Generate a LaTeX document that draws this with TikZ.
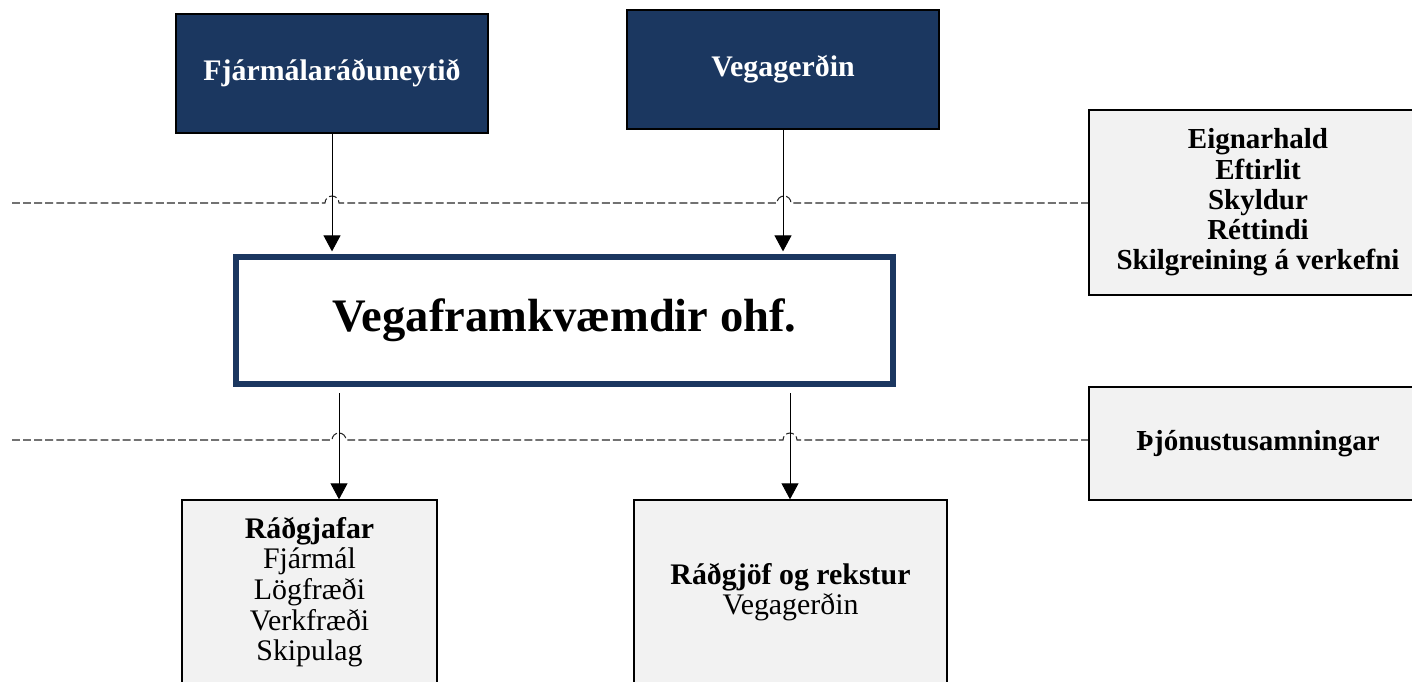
\documentclass[tikz,border=0pt]{standalone}
\usepackage{fontspec}
\setmainfont{Liberation Serif}
\usetikzlibrary{arrows.meta,positioning}
\definecolor{roadnavy}{RGB}{27,55,96}
\definecolor{panelgray}{RGB}{242,242,242}

\begin{document}
\begin{tikzpicture}[x=0.02cm,y=-0.02cm,
    topbox/.style={draw=black, line width=0.8pt, fill=roadnavy, text=white, font=\bfseries\fontsize{17}{20}\selectfont, minimum width=6.24cm, minimum height=2.38cm, inner sep=0pt},
    mainbox/.style={draw=roadnavy, line width=3.4pt, fill=white, font=\bfseries\fontsize{26.5}{32}\selectfont, minimum width=13.14cm, minimum height=2.54cm, inner sep=0pt},
    notebox/.style={draw=black, line width=0.8pt, fill=panelgray, align=center, font=\bfseries\fontsize{16.5}{17.2}\selectfont, minimum width=6.76cm, inner sep=0pt},
    lowbox/.style={draw=black, line width=0.8pt, fill=panelgray, align=center, font=\fontsize{17}{17.4}\selectfont, minimum height=3.68cm, inner sep=0pt},
    flow/.style={draw=black, line width=0.5pt, -{Triangle[length=0.32cm,width=0.34cm]}},
    divider/.style={draw=black!85, line width=0.6pt, dash pattern=on 4.5pt off 1.8pt}]
    \useasboundingbox (0,0) rectangle (1412,681);

    % Draw dividing lines with hops
    \draw[divider] (12,203) -- (325,203) arc[start angle=180, end angle=360, radius=7]
        -- (777,203) arc[start angle=180, end angle=360, radius=7] -- (1089,203);
    \draw[divider] (12,440) -- (332,440) arc[start angle=180, end angle=360, radius=7]
        -- (783,440) arc[start angle=180, end angle=360, radius=7] -- (1089,440);

    % Draw owners
    \node[topbox] (fin) at (332,73.5) {Fjármálaráðuneytið};
    \node[topbox] (veg) at (783,69.5) {Vegagerðin};

    % Draw company
    \node[mainbox] (vf) at (564.5,320.5) {Vegaframkvæmdir ohf.};

    % Draw notes on the right
    \node[notebox, minimum height=3.7cm] (roles) at (1258,202.5) {Eignarhald\\Eftirlit\\Skyldur\\Réttindi\\Skilgreining á verkefni};
    \node[notebox, minimum height=2.26cm] (svc) at (1258,443.5) {Þjónustusamningar};

    % Draw service providers
    \node[lowbox, minimum width=5.1cm] (radg) at (309.5,592) {\textbf{Ráðgjafar}\\Fjármál\\Lögfræði\\Verkfræði\\Skipulag};
    \node[lowbox, minimum width=6.26cm] (rekst) at (790.5,592) {\textbf{Ráðgjöf og rekstur}\\Vegagerðin};

    % Draw arrows
    \coordinate (outL) at (339,393);
    \coordinate (outR) at (790,393);
    \draw[flow] (fin.south) -- ([yshift=1.5pt]fin.south |- vf.north);
    \draw[flow] (veg.south) -- ([yshift=1.5pt]veg.south |- vf.north);
    \draw[flow] (outL) -- (outL |- radg.north);
    \draw[flow] (outR) -- (outR |- rekst.north);
\end{tikzpicture}
\end{document}
